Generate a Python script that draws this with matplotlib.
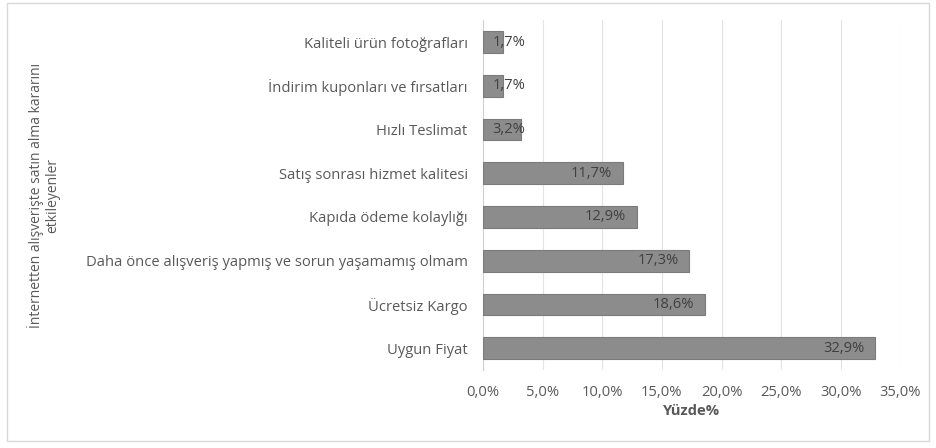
import matplotlib.pyplot as plt
from matplotlib.patches import Rectangle
from matplotlib.ticker import FuncFormatter

plt.rcParams['font.family'] = ['Open Sans', 'DejaVu Sans']

categories = [
    "Uygun Fiyat",
    "Ücretsiz Kargo",
    "Daha önce alışveriş yapmış ve sorun yaşamamış olmam",
    "Kapıda ödeme kolaylığı",
    "Satış sonrası hizmet kalitesi",
    "Hızlı Teslimat",
    "İndirim kuponları ve fırsatları",
    "Kaliteli ürün fotoğrafları",
]
values = [32.9, 18.6, 17.3, 12.9, 11.7, 3.2, 1.7, 1.7]
xticks = [0, 5, 10, 15, 20, 25, 30, 35]

text_col = '#595959'
fs = 10.6

fig = plt.figure(figsize=(9.36, 4.48), dpi=100)
fig.patches.append(Rectangle((0.008, 0.015), 0.984, 0.978, transform=fig.transFigure,
                             fill=False, edgecolor='#d9d9d9', linewidth=1))
ax = fig.add_axes([0.516, 0.174, 0.446, 0.781])

y = list(range(len(categories)))
ax.barh(y, values, height=0.5, color='#8c8c8c', edgecolor='#7b7b7b', linewidth=0.8, zorder=3)

for yi, v in zip(y, values):
    lab = f"{v:.1f}%".replace('.', ',')
    if v < 4:
        ax.text(0.8, yi, lab, ha='left', va='center', fontsize=fs, color='#404040', zorder=4)
    else:
        ax.text(v - 0.9, yi, lab, ha='right', va='center', fontsize=fs, color='#404040', zorder=4)

ax.set_xlim(0, 35)
ax.set_ylim(-0.5, 7.5)
ax.set_xticks(xticks)
ax.xaxis.set_major_formatter(FuncFormatter(lambda x, p: f"{x:.1f}%".replace('.', ',')))
ax.set_yticks(y)
ax.set_yticklabels(categories)
ax.tick_params(axis='both', length=0, labelsize=fs, colors=text_col)
ax.tick_params(axis='y', pad=11)
ax.tick_params(axis='x', pad=11)
ax.grid(axis='x', color='#e3e3e3', linewidth=0.8, zorder=0)
for s in ['top', 'right', 'bottom']:
    ax.spines[s].set_visible(False)
ax.spines['left'].set_color('#d0d0d0')

ax.set_xlabel("Yüzde%", fontsize=fs, fontweight='bold', color=text_col, labelpad=3)
fig.text(0.047, 0.174 + 0.781 / 2, "İnternetten alışverişte satın alma kararını\netkileyenler",
         rotation=90, ha='center', va='center', fontsize=10, color=text_col,
         multialignment='center', linespacing=1.1)

fig.savefig('out.png', dpi=100)
